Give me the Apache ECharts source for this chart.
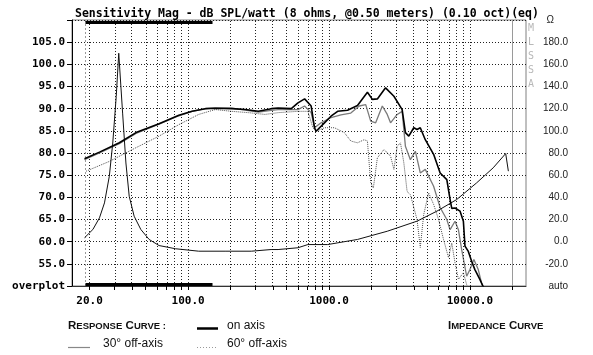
<!DOCTYPE html>
<html><head><meta charset="utf-8">
<script src="https://cdn.jsdelivr.net/npm/echarts@6/dist/echarts.min.js"></script>
<style>html,body{margin:0;padding:0;background:#fff}#c{width:593px;height:355px}</style>
</head><body><div id="c"></div>
<script>
// ---- data ----
const onAxisFreq = [18.4, 23.5, 32.5, 42.7, 62.2, 86, 106.7, 132.6, 156, 204, 254, 315, 390, 435, 540, 602, 671, 747, 789, 810, 928, 1033, 1151, 1354, 1593, 1873, 2031, 2203, 2520, 2888, 3304, 3485, 3683, 3995, 4213, 4444, 4822, 5525, 6147, 6855, 7233, 7432, 7842, 8502, 8985, 9222, 9743, 10280, 10845, 11762, 12690];
const onAxisDb = [78.7, 80.2, 82.3, 84.6, 86.6, 88.5, 89.4, 90.0, 90.1, 90.0, 89.8, 89.4, 90.0, 90.15, 90.0, 91.3, 92.2, 90.6, 85.7, 84.9, 86.8, 88.3, 89.4, 89.65, 90.7, 93.7, 92.1, 92.2, 94.7, 92.8, 89.8, 84.6, 83.8, 85.7, 85.3, 85.7, 83.0, 79.7, 75.5, 74.0, 69.5, 67.5, 67.6, 66.9, 64.6, 59.0, 57.8, 55.6, 53.7, 51.5, 49.2];

const off30Freq = [18.4, 23.5, 32.5, 42.7, 62.2, 86, 106.7, 132.6, 156, 204, 254, 315, 390, 435, 602, 671, 747, 789, 878, 1033, 1215, 1428, 1638, 1822, 1976, 2143, 2389, 2590, 2733, 3047, 3304, 3485, 3780, 4100, 4444, 4822, 5525, 6147, 6855, 7233, 7842, 8284, 8740, 9480, 10000, 10670, 11460, 12090, 12690];
const off30Db = [78.5, 80.0, 82.1, 84.4, 86.5, 88.4, 89.4, 90.0, 90.2, 90.1, 89.7, 89.2, 89.6, 89.8, 89.8, 90.6, 89.1, 85.7, 86.8, 88.0, 88.6, 89.0, 90.6, 90.9, 87.2, 86.8, 90.6, 88.7, 86.8, 88.7, 89.4, 81.5, 78.5, 80.4, 75.5, 76.3, 72.5, 67.7, 65.0, 62.7, 64.6, 62.7, 58.2, 52.2, 53.7, 56.0, 53.7, 50.7, 48.8];

const off60Freq = [18.9, 27.6, 40.3, 62.2, 86, 118.9, 156, 204, 268, 351, 435, 602, 708, 768, 810, 928, 1092, 1284, 1428, 1593, 1776, 1873, 1976, 2064, 2203, 2456, 2733, 2888, 3047, 3214, 3396, 3583, 3780, 4213, 4444, 4697, 5093, 5525, 5991, 6496, 7046, 7432, 7842, 8284, 8985, 9480, 9950];
const off60Db = [75.9, 78.1, 80.8, 83.8, 86.4, 88.7, 89.8, 89.4, 89.1, 88.7, 89.1, 89.4, 89.4, 85.7, 84.9, 85.7, 85.7, 84.6, 82.7, 82.3, 83.0, 82.7, 73.3, 72.1, 78.9, 80.8, 79.3, 76.3, 81.5, 82.3, 77.8, 71.3, 70.6, 65.0, 58.7, 66.1, 71.0, 68.4, 65.0, 60.5, 56.4, 59.7, 55.2, 51.5, 53.0, 50.3, 48.8];

const impFreq = [18.4, 21.1, 23.5, 25.5, 27.6, 29.2, 30.9, 32.2, 33.1, 34.3, 36.2, 38.2, 41.4, 46.2, 52.9, 62.2, 81.5, 118.9, 183, 281, 388, 435, 602, 708, 979, 1593, 2590, 4213, 5825, 8054, 11143, 14620, 17940, 18740];
const impOhm = [3.5, 11, 21.5, 35, 59, 89, 131, 170, 169, 116, 71, 41, 23, 11, 2, -3.5, -6.4, -8.6, -8.6, -8.6, -7.1, -7.1, -5.5, -2.6, -2.6, 2, 9.4, 18.5, 27.5, 38, 53, 66.6, 79.5, 63.6];

const gridFreqs = [20,30,40,50,60,70,80,90,100,200,300,400,500,600,700,800,900,1000,2000,3000,4000,5000,6000,7000,8000,9000,10000];
const limitFreq = 20000;
const markerFreq = 18.7;
const tickFreqs = gridFreqs.concat([20000]);
const labelFreqs = [20, 100, 1000, 10000];
const rangeBarFreq = [18.7, 149];
const freqRange = [15, 25000];
const splRange = [50, 110];
const ohmRange = [-40, 200];

// ---- build ----
const L = Math.log10;
const pairs = (f, v) => f.map((x, i) => [L(x), v[i]]);
const mono = '"DejaVu Sans Mono", monospace';
const sans = '"Liberation Sans", Arial, sans-serif';

const chart = echarts.init(document.getElementById('c'), null, {renderer: 'canvas'});
chart.setOption({
  animation: false,
  backgroundColor: '#fff',
  title: {
    text: 'Sensitivity Mag - dB SPL/watt (8 ohms, @0.50 meters) (0.10 oct)(eq)',
    left: 70, top: 3,
    textStyle: {fontFamily: mono, fontSize: 11.5, fontWeight: 'bold', color: '#000'}
  },
  grid: {left: 72, right: 67, top: 20, bottom: 69, show: true, borderColor: '#808080', borderWidth: 1},
  xAxis: {
    type: 'value', min: L(freqRange[0]), max: L(freqRange[1]),
    axisLine: {show: true, onZero: false, lineStyle: {color: '#333', width: 1}},
    axisTick: {show: true, length: 4, customValues: tickFreqs.map(L), lineStyle: {color: '#000'}},
    axisLabel: {
      customValues: labelFreqs.map(L), margin: 10,
      formatter: v => Math.pow(10, v).toFixed(1),
      fontFamily: mono, fontSize: 11, fontWeight: 'bold', color: '#000'
    },
    splitLine: {show: false}
  },
  yAxis: [{
    type: 'value', min: splRange[0], max: splRange[1], interval: 5,
    axisLine: {show: true, onZero: false, lineStyle: {color: '#000'}},
    axisTick: {show: true, length: 5, lineStyle: {color: '#000'}},
    axisLabel: {
      margin: 7, showMinLabel: true, showMaxLabel: true,
      formatter: v => v === splRange[0] ? 'overplot' : (v === splRange[1] ? '' : v.toFixed(1)),
      fontFamily: mono, fontSize: 11, fontWeight: 'bold', color: '#000'
    },
    splitLine: {show: true, lineStyle: {color: '#222', type: [1, 2], width: 1}}
  }, {
    type: 'value', min: ohmRange[0], max: ohmRange[1], interval: 20, position: 'right',
    axisLine: {show: false, onZero: false}, axisTick: {show: false}, splitLine: {show: false},
    axisLabel: {
      margin: 42, align: 'right', showMinLabel: true, showMaxLabel: true,
      formatter: v => v === ohmRange[1] ? '{o|Ω}' : (v === ohmRange[0] ? 'auto' : v.toFixed(1)),
      fontFamily: sans, fontSize: 10, color: '#222',
      rich: {o: {fontFamily: sans, fontSize: 10, color: '#222', padding: [0, 14, 0, 0]}}
    }
  }],
  series: [
    {
      type: 'line', name: 'grid', data: [], silent: true, z: 1,
      markLine: {
        silent: true, symbol: 'none', label: {show: false}, animation: false,
        data: gridFreqs.map(f => ({xAxis: L(f), lineStyle: {color: '#222', type: [1, 2], width: 1}}))
          .concat([
            {xAxis: L(limitFreq), lineStyle: {color: '#9a9a9a', type: 'solid', width: 1}},
            {xAxis: L(markerFreq), lineStyle: {color: '#9a9a9a', type: [2, 2], width: 1}},
            [{coord: [L(rangeBarFreq[0]), 109.6], lineStyle: {color: '#000', width: 3, type: 'solid'}}, {coord: [L(rangeBarFreq[1]), 109.6]}],
            [{coord: [L(rangeBarFreq[0]), 50.35], lineStyle: {color: '#000', width: 3, type: 'solid'}}, {coord: [L(rangeBarFreq[1]), 50.35]}]
          ])
      }
    },
    {type: 'line', name: '60° off-axis', data: pairs(off60Freq, off60Db), symbol: 'none', z: 3,
      lineStyle: {color: '#505050', width: 1, type: [1, 1]}},
    {type: 'line', name: '30° off-axis', data: pairs(off30Freq, off30Db), symbol: 'none', z: 4,
      lineStyle: {color: '#7a7a7a', width: 1.3}},
    {type: 'line', name: 'impedance', yAxisIndex: 1, data: pairs(impFreq, impOhm), symbol: 'none', z: 5,
      lineStyle: {color: '#111', width: 1}},
    {type: 'line', name: 'on axis', data: pairs(onAxisFreq, onAxisDb), symbol: 'none', z: 6,
      lineStyle: {color: '#000', width: 1.6}}
  ],
  graphic: [
    {type: 'text', left: 528, top: 21, style: {text: 'M\nL\nS\nS\nA', fill: '#b8b8b8', font: '10px ' + mono, lineHeight: 14}},
    {type: 'text', left: 68, top: 320, style: {
      text: '{b|R}{s|ESPONSE} {b|C}{s|URVE :}', rich: {
        b: {fontFamily: sans, fontWeight: 'bold', fill: '#111', fontSize: 11.5},
        s: {fontFamily: sans, fontWeight: 'bold', fill: '#111', fontSize: 9.5}
      }}},
    {type: 'text', left: 448, top: 320, style: {
      text: '{b|I}{s|MPEDANCE} {b|C}{s|URVE}', rich: {
        b: {fontFamily: sans, fontWeight: 'bold', fill: '#111', fontSize: 11.5},
        s: {fontFamily: sans, fontWeight: 'bold', fill: '#111', fontSize: 9.5}
      }}},
    {type: 'line', shape: {x1: 197, y1: 328.5, x2: 218, y2: 328.5}, style: {stroke: '#000', lineWidth: 2.5}},
    {type: 'text', left: 227, top: 320, style: {text: 'on axis', font: '12px ' + sans, fill: '#111'}},
    {type: 'line', shape: {x1: 68, y1: 347.5, x2: 90, y2: 347.5}, style: {stroke: '#888', lineWidth: 1.2}},
    {type: 'text', left: 103, top: 338, style: {text: '30° off-axis', font: '12px ' + sans, fill: '#111'}},
    {type: 'line', shape: {x1: 197, y1: 347.5, x2: 218, y2: 347.5}, style: {stroke: '#999', lineWidth: 1, lineDash: [1, 2]}},
    {type: 'text', left: 227, top: 338, style: {text: '60° off-axis', font: '12px ' + sans, fill: '#111'}}
  ]
});
</script>
</body></html>
